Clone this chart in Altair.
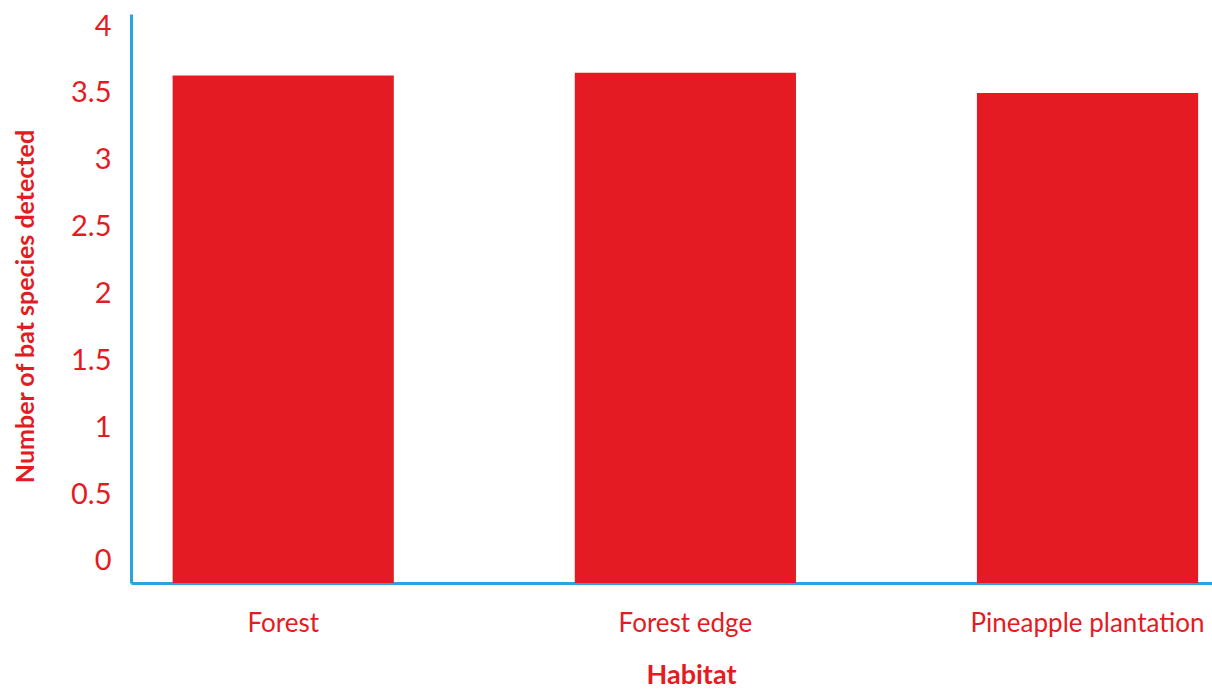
import altair as alt
import pandas as pd

habitats = ["Forest", "Forest edge", "Pineapple plantation"]
species = [3.63, 3.65, 3.50]
y_ticks = [0, 0.5, 1, 1.5, 2, 2.5, 3, 3.5, 4]

RED = "#E41B22"
BLUE = "#2AA3DF"
FONT = "Lato"

df = pd.DataFrame({"Habitat": habitats, "Species": species})

Y_MIN = -0.165
Y_MAX = 4.09

chart = alt.Chart(df).mark_bar(color=RED).encode(
    x=alt.X(
        "Habitat:N",
        sort=habitats,
        scale=alt.Scale(paddingInner=0.45, paddingOuter=0.069, align=0.75),
        axis=alt.Axis(
            title="Habitat",
            labelAngle=0,
            labelFont=FONT,
            labelFontSize=26,
            labelColor=RED,
            labelPadding=27,
            labelLimit=0,
            ticks=False,
            domainColor=BLUE,
            domainWidth=3,
            titleFont=FONT,
            titleFontSize=27,
            titleFontWeight="bold",
            titleColor=RED,
            titleX=560,
            titleY=100,
            titleBaseline="alphabetic",
        ),
    ),
    y=alt.Y(
        "Species:Q",
        scale=alt.Scale(domain=[Y_MIN, Y_MAX], nice=False, zero=False),
        axis=alt.Axis(
            title="Number of bat species detected",
            values=y_ticks,
            format="~g",
            grid=False,
            ticks=False,
            labelFont=FONT,
            labelFontSize=29,
            labelColor=RED,
            labelPadding=20,
            domainColor=BLUE,
            domainWidth=3,
            titleFont=FONT,
            titleFontSize=25,
            titleFontWeight="bold",
            titleColor=RED,
            titleAngle=270,
            titleX=-106,
            titleY=292,
            titleAlign="center",
            titleBaseline="middle",
        ),
    ),
    y2=alt.datum(Y_MIN),
).properties(
    width=1081,
    height=569,
    background="white",
    autosize=alt.AutoSizeParams(type="none"),
    padding={"left": 131, "top": 14, "right": 0, "bottom": 106},
).configure_view(strokeWidth=0, stroke="transparent")

chart.save("out.html", embed_options={"renderer": "svg", "actions": False})
